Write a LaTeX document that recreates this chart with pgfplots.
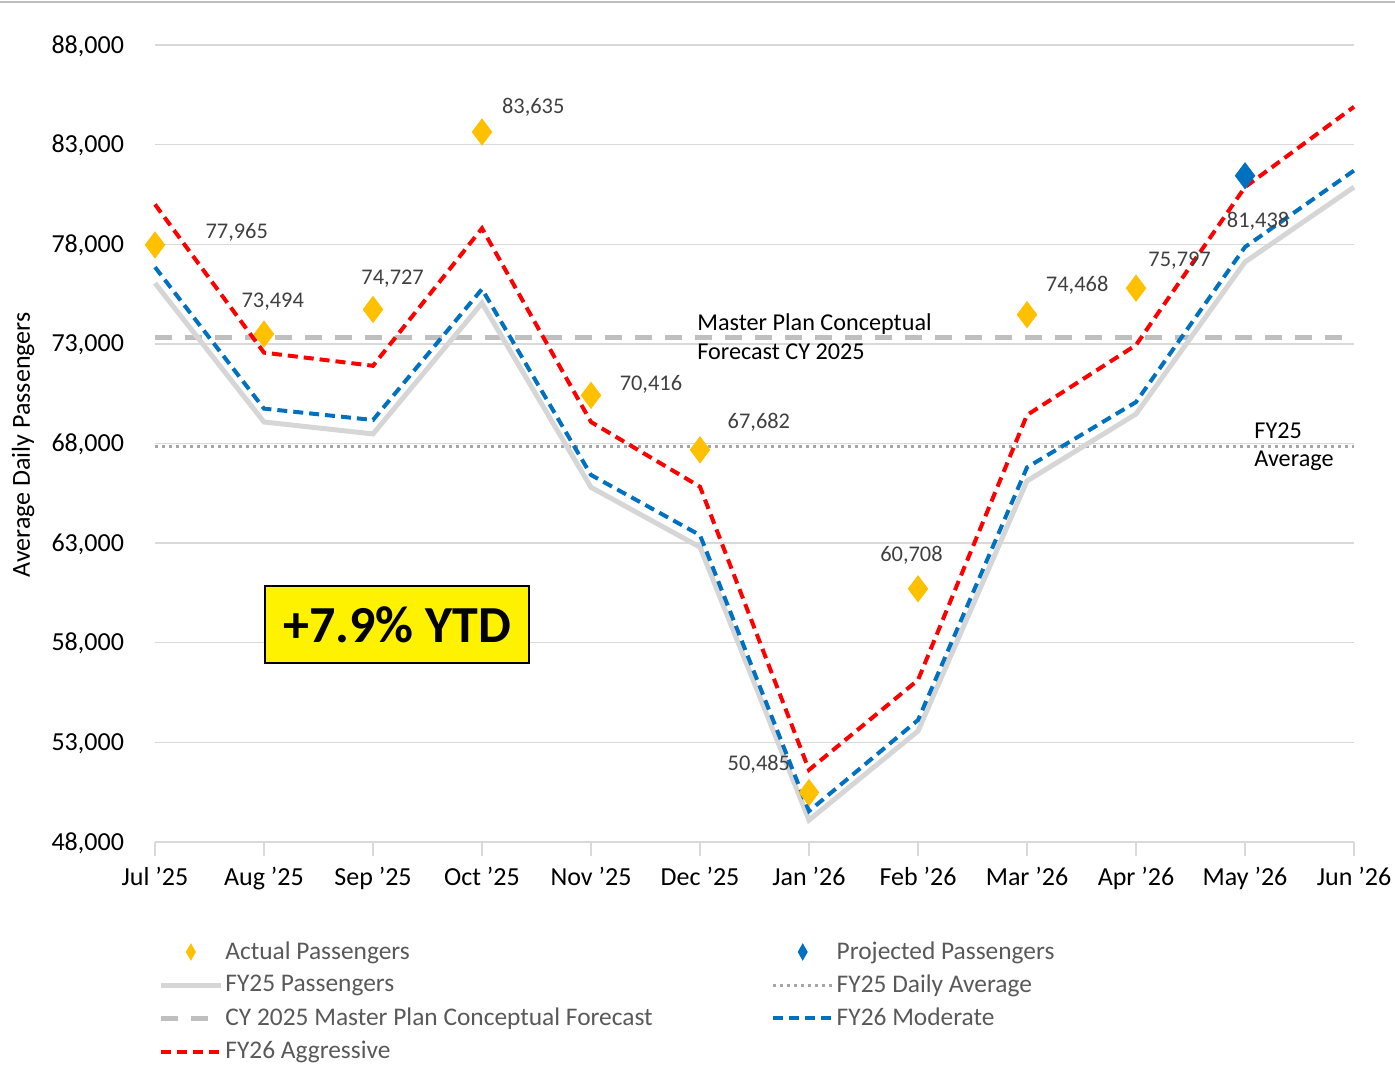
\documentclass[border=0pt]{standalone}
\usepackage{fontspec}
\setmainfont{Carlito}
\usepackage{pgfplots}
\pgfplotsset{compat=1.18}
\usepackage{pgfplotstable}
\definecolor{gridgray}{HTML}{D9D9D9}
\definecolor{fygray}{HTML}{D6D6D6}
\definecolor{mpgray}{HTML}{BFBFBF}
\definecolor{dotgray}{HTML}{A6A6A6}
\definecolor{lbl}{HTML}{404040}
\definecolor{leg}{HTML}{595959}
\definecolor{gold}{HTML}{FFC000}
\definecolor{mblue}{HTML}{0070C0}
\definecolor{ared}{HTML}{FF0000}

\pgfplotstableread{
x fy25 mod agg
0 76050 76850 80000
1 69080 69750 72560
2 68480 69180 71900
3 75050 75750 78800
4 65800 66420 69080
5 62800 63400 65830
6 49100 49550 51620
7 53570 54120 56130
8 66120 66800 69430
9 69480 70080 72940
10 77110 77860 80870
11 80870 81700 84900
}\lines

\pgfplotstableread{
x y
0 77965
1 73494
2 74727
3 83635
4 70416
5 67682
6 50485
7 60708
8 74468
9 75797
}\actual

\begin{document}
\begin{tikzpicture}
\begin{axis}[
  at={(77.5pt,118pt)}, anchor=south west,
  scale only axis, width=599.5pt, height=398.5pt,
  xmin=0, xmax=11, ymin=48000, ymax=88000,
  xtick={0,...,11},
  xticklabels={Jul '25,Aug '25,Sep '25,Oct '25,Nov '25,Dec '25,Jan '26,Feb '26,Mar '26,Apr '26,May '26,Jun '26},
  ytick={48000,53000,...,88000},
  scaled y ticks=false,
  /pgf/number format/1000 sep={,},
  /pgf/number format/assume math mode=true,
  ticklabel style={font=\fontsize{13}{15}\selectfont, text=black},
  yticklabel style={xshift=-5pt, yshift=-0.5pt},
  xticklabel style={yshift=-2pt},
  ymajorgrids, grid style={color=gridgray, line width=0.7pt},
  axis x line*=bottom, axis y line*=left,
  y axis line style={draw=none},
  x axis line style={color=gridgray, line width=0.8pt},
  xtick style={color=gridgray, line width=0.8pt},
  ytick style={draw=none},
  tick align=outside, major tick length=7pt,
  clip=false,
  legend columns=2,
  legend cell align=left,
  legend image code/.code={\draw[mark repeat=2,mark phase=2,#1] plot coordinates {(0pt,0pt)(15pt,0pt)(30pt,0pt)};},
  legend style={at={(-0.0025,-0.117)}, anchor=north west, draw=none, fill=none,
    font=\fontsize{12.7}{14}\selectfont, text=leg, row sep=4.3pt,
    /tikz/every even column/.append style={column sep=58pt},
    nodes={inner sep=1pt}},
]
% reference lines
\addplot[forget plot, mpgray, line width=2.5pt, dash pattern=on 8.5pt off 6.5pt] coordinates {(0,73340) (11,73340)};
\addplot[forget plot, dotgray, line width=1.5pt, dash pattern=on 1.5pt off 2pt] coordinates {(0,67870) (11,67870)};
% series
\addplot[forget plot, fygray, line width=2.5pt] table[x=x,y=fy25] {\lines};
\addplot[forget plot, mblue, line width=2pt, dash pattern=on 5pt off 3pt] table[x=x,y=mod] {\lines};
\addplot[forget plot, ared, line width=2pt, dash pattern=on 5pt off 3pt] table[x=x,y=agg] {\lines};
\addplot[forget plot, only marks, mark=diamond*, mark size=6.5pt, mark options={fill=gold, draw=gold}] table[x=x,y=y] {\actual};
\addplot[forget plot, only marks, mark=diamond*, mark size=6.5pt, mark options={fill=mblue, draw=mblue}] coordinates {(10,81438)};

% legend
\addlegendimage{only marks, mark=diamond*, mark size=4pt, mark options={fill=gold, draw=gold, xscale=0.75}}
\addlegendentry{Actual Passengers}
\addlegendimage{only marks, mark=diamond*, mark size=4pt, mark options={fill=mblue, draw=mblue, xscale=0.75}}
\addlegendentry{Projected Passengers}
\addlegendimage{fygray, line width=2.5pt}
\addlegendentry{FY25 Passengers}
\addlegendimage{dotgray, line width=1.5pt, dash pattern=on 1.5pt off 2pt}
\addlegendentry{FY25 Daily Average}
\addlegendimage{mpgray, line width=2.5pt, dash pattern=on 8.5pt off 6.5pt}
\addlegendentry{CY 2025 Master Plan Conceptual Forecast}
\addlegendimage{mblue, line width=2pt, dash pattern=on 5pt off 3pt}
\addlegendentry{FY26 Moderate}
\addlegendimage{ared, line width=2pt, dash pattern=on 5pt off 3pt}
\addlegendentry{FY26 Aggressive}

% data labels
\begin{scope}[every node/.style={font=\fontsize{11.2}{13}\selectfont, text=lbl, inner sep=0pt}]
\node at (axis cs:0.75,78614) {77,965};
\node at (axis cs:1.08,75100) {73,494};
\node at (axis cs:2.18,76256) {74,727};
\node at (axis cs:3.47,84888) {83,635};
\node at (axis cs:4.55,70986) {70,416};
\node at (axis cs:5.54,69078) {67,682};
\node at (axis cs:5.54,51913) {50,485};
\node at (axis cs:6.94,62403) {60,708};
\node at (axis cs:8.46,75954) {74,468};
\node at (axis cs:9.40,77159) {75,797};
\node at (axis cs:10.12,79167) {81,438};
\end{scope}

% annotations
\begin{scope}[every node/.style={font=\fontsize{12.1}{14}\selectfont, text=black, inner sep=0pt, anchor=base west}]
\node at (axis cs:4.972,73696) {Master Plan Conceptual};
\node at (axis cs:4.972,72240) {Forecast CY 2025};
\node at (axis cs:10.083,68275) {FY25};
\node at (axis cs:10.083,66870) {Average};
\end{scope}

\node[fill=yellow, draw=black, line width=0.7pt, minimum width=132pt, minimum height=38.5pt, inner sep=0pt,
  font=\fontsize{26}{28}\selectfont\bfseries] at (axis cs:2.22,58915) {+7.9\% YTD};
\end{axis}
\node[rotate=90, font=\fontsize{13}{15}\selectfont, inner sep=0pt] at (11.5pt,316.5pt) {Average Daily Passengers};
\draw[mpgray, line width=0.7pt] (0pt,538pt) -- (697.5pt,538pt);
\pgfresetboundingbox
\path (0pt,0pt) rectangle (697.5pt,539pt);
\end{tikzpicture}
\end{document}
